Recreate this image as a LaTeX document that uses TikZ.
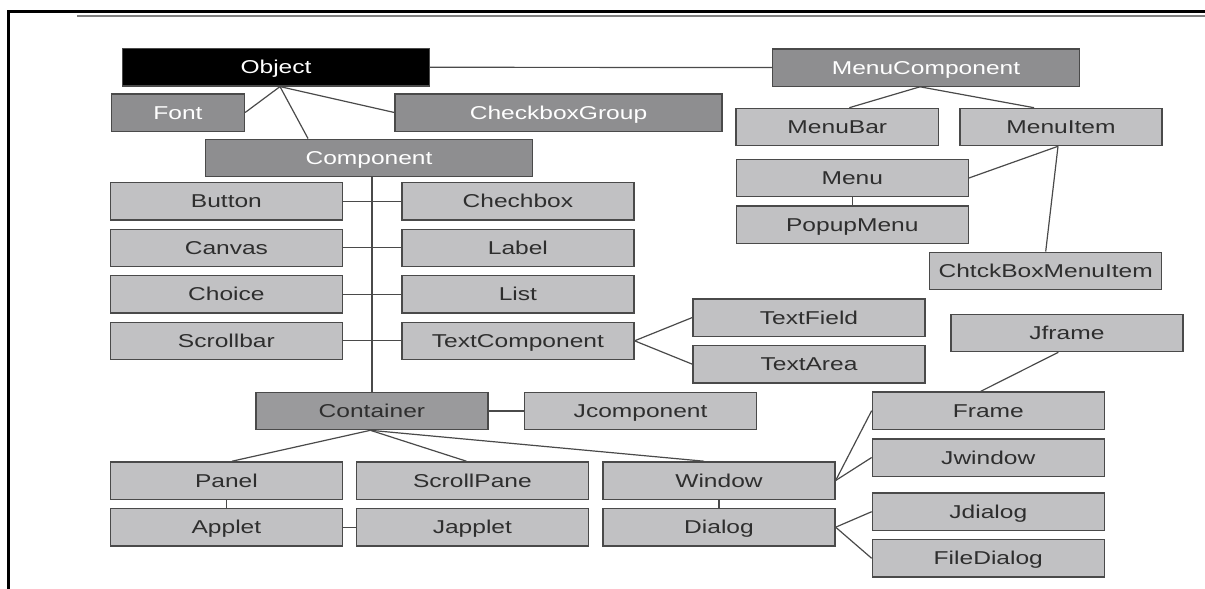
\documentclass[tikz,border=0pt]{standalone}
\usepackage{fontspec}
\newfontfamily\boxfont[FakeStretch=1.32]{Liberation Sans}
\usepackage{tikz}
\definecolor{lightbox}{HTML}{C1C1C3}
\definecolor{darkbox}{HTML}{8E8E90}
\definecolor{midbox}{HTML}{9A9A9C}
\definecolor{edge}{HTML}{4A4A4A}
\definecolor{ink}{HTML}{2E2E2E}
\tikzset{
  cls/.style={draw=edge, line width=1.3pt, fill=lightbox, text=ink,
    minimum width=232pt, minimum height=37.3pt, inner sep=0pt,
    text height=13.3pt, text depth=0pt,
    font=\boxfont\fontsize{18.6}{20}\selectfont},
  darkcls/.style={cls, fill=darkbox, text=white},
  link/.style={draw=edge, line width=1.2pt}
}
\begin{document}
\begin{tikzpicture}[x=1pt,y=-1pt]
\useasboundingbox (0,0) rectangle (1205,589);
% page frame
\draw[line width=2.2pt] (8.5,589) -- (8.5,11.5) -- (1205,11.5);
\draw[line width=1.5pt,color=gray] (77,16) -- (1205,16);

% Object branch
\node[cls,fill=black,text=white,minimum width=307pt] (object) at (276,67.3) {Object};
\node[darkcls,minimum width=133pt] (font) at (178,112.5) {Font};
\node[darkcls,minimum width=327pt] (chkgroup) at (558.5,112.5) {CheckboxGroup};
\node[darkcls,minimum width=327pt] (component) at (369,157.8) {Component};

% menu branch
\node[darkcls,minimum width=307pt] (menucomp) at (926,67.5) {MenuComponent};
\node[cls,minimum width=202.6pt] (menubar) at (837.3,127) {MenuBar};
\node[cls,minimum width=202pt] (menuitem) at (1061,127) {MenuItem};
\node[cls] (menu) at (852.3,178) {Menu};
\node[cls] (popup) at (852.3,224.7) {PopupMenu};
\node[cls] (chkmenu) at (1045.7,270.8) {ChtckBoxMenuItem};

% components
\node[cls] (button) at (226.4,201.3) {Button};
\node[cls] (chechbox) at (517.9,201.3) {Chechbox};
\node[cls] (canvas) at (226.4,247.8) {Canvas};
\node[cls] (label) at (517.9,247.8) {Label};
\node[cls] (choice) at (226.4,294.3) {Choice};
\node[cls] (list) at (517.9,294.3) {List};
\node[cls] (scrollbar) at (226.4,340.8) {Scrollbar};
\node[cls] (textcomp) at (517.9,340.8) {TextComponent};
\node[cls] (textfield) at (809,317.5) {TextField};
\node[cls] (textarea) at (809,364.2) {TextArea};

% containers
\node[cls,fill=midbox] (container) at (371.9,411) {Container};
\node[cls] (jcomp) at (640.6,411) {Jcomponent};
\node[cls] (panel) at (226.4,480.5) {Panel};
\node[cls] (scrollpane) at (472.4,480.5) {ScrollPane};
\node[cls] (window) at (719,480.5) {Window};
\node[cls] (applet) at (226.4,527.2) {Applet};
\node[cls] (japplet) at (472.4,527.2) {Japplet};
\node[cls] (dialog) at (719,527.2) {Dialog};
\node[cls] (jframe) at (1066.9,333) {Jframe};
\node[cls] (frame) at (988.3,410.7) {Frame};
\node[cls] (jwindow) at (988.3,457.5) {Jwindow};
\node[cls] (jdialog) at (988.3,511.7) {Jdialog};
\node[cls] (filedialog) at (988.3,558.3) {FileDialog};

% links
\draw[link] ([xshift=4pt]object.south) -- (font.east);
\draw[link] ([xshift=4pt]object.south) -- ([xshift=-61pt]component.north);
\draw[link] ([xshift=4pt]object.south) -- (chkgroup.west);
\draw[link] (object.east) -- (menucomp.west);
\draw[link] ([xshift=-6pt]menucomp.south) -- ([xshift=12pt]menubar.north);
\draw[link] ([xshift=-6pt]menucomp.south) -- ([xshift=-27pt]menuitem.north);
\draw[link] ([xshift=-3pt]menuitem.south) -- (menu.east);
\draw[link] ([xshift=-3pt]menuitem.south) -- (chkmenu.north);
\draw[link] (menu.south) -- (popup.north);
\draw[link] (component.south -| container.north) -- (container.north);
\draw[link] (button.east) -- (chechbox.west);
\draw[link] (canvas.east) -- (label.west);
\draw[link] (choice.east) -- (list.west);
\draw[link] (scrollbar.east) -- (textcomp.west);
\draw[link] (textcomp.east) -- (textfield.west);
\draw[link] (textcomp.east) -- (textarea.west);
\draw[link] (container.east) -- (jcomp.west);
\draw[link] ([xshift=-1.5pt]container.south) -- ([xshift=5.6pt]panel.north);
\draw[link] ([xshift=-1.5pt]container.south) -- ([xshift=-6pt]scrollpane.north);
\draw[link] ([xshift=-1.5pt]container.south) -- ([xshift=-15pt]window.north);
\draw[link] (panel.south) -- (applet.north);
\draw[link] (applet.east) -- (japplet.west);
\draw[link] (window.south) -- (dialog.north);
\draw[link] (window.east) -- (frame.west);
\draw[link] (window.east) -- (jwindow.west);
\draw[link] (dialog.east) -- (jdialog.west);
\draw[link] (dialog.east) -- (filedialog.west);
\draw[link] ([xshift=-8.6pt]jframe.south) -- ([xshift=-7.7pt]frame.north);
\end{tikzpicture}
\end{document}
